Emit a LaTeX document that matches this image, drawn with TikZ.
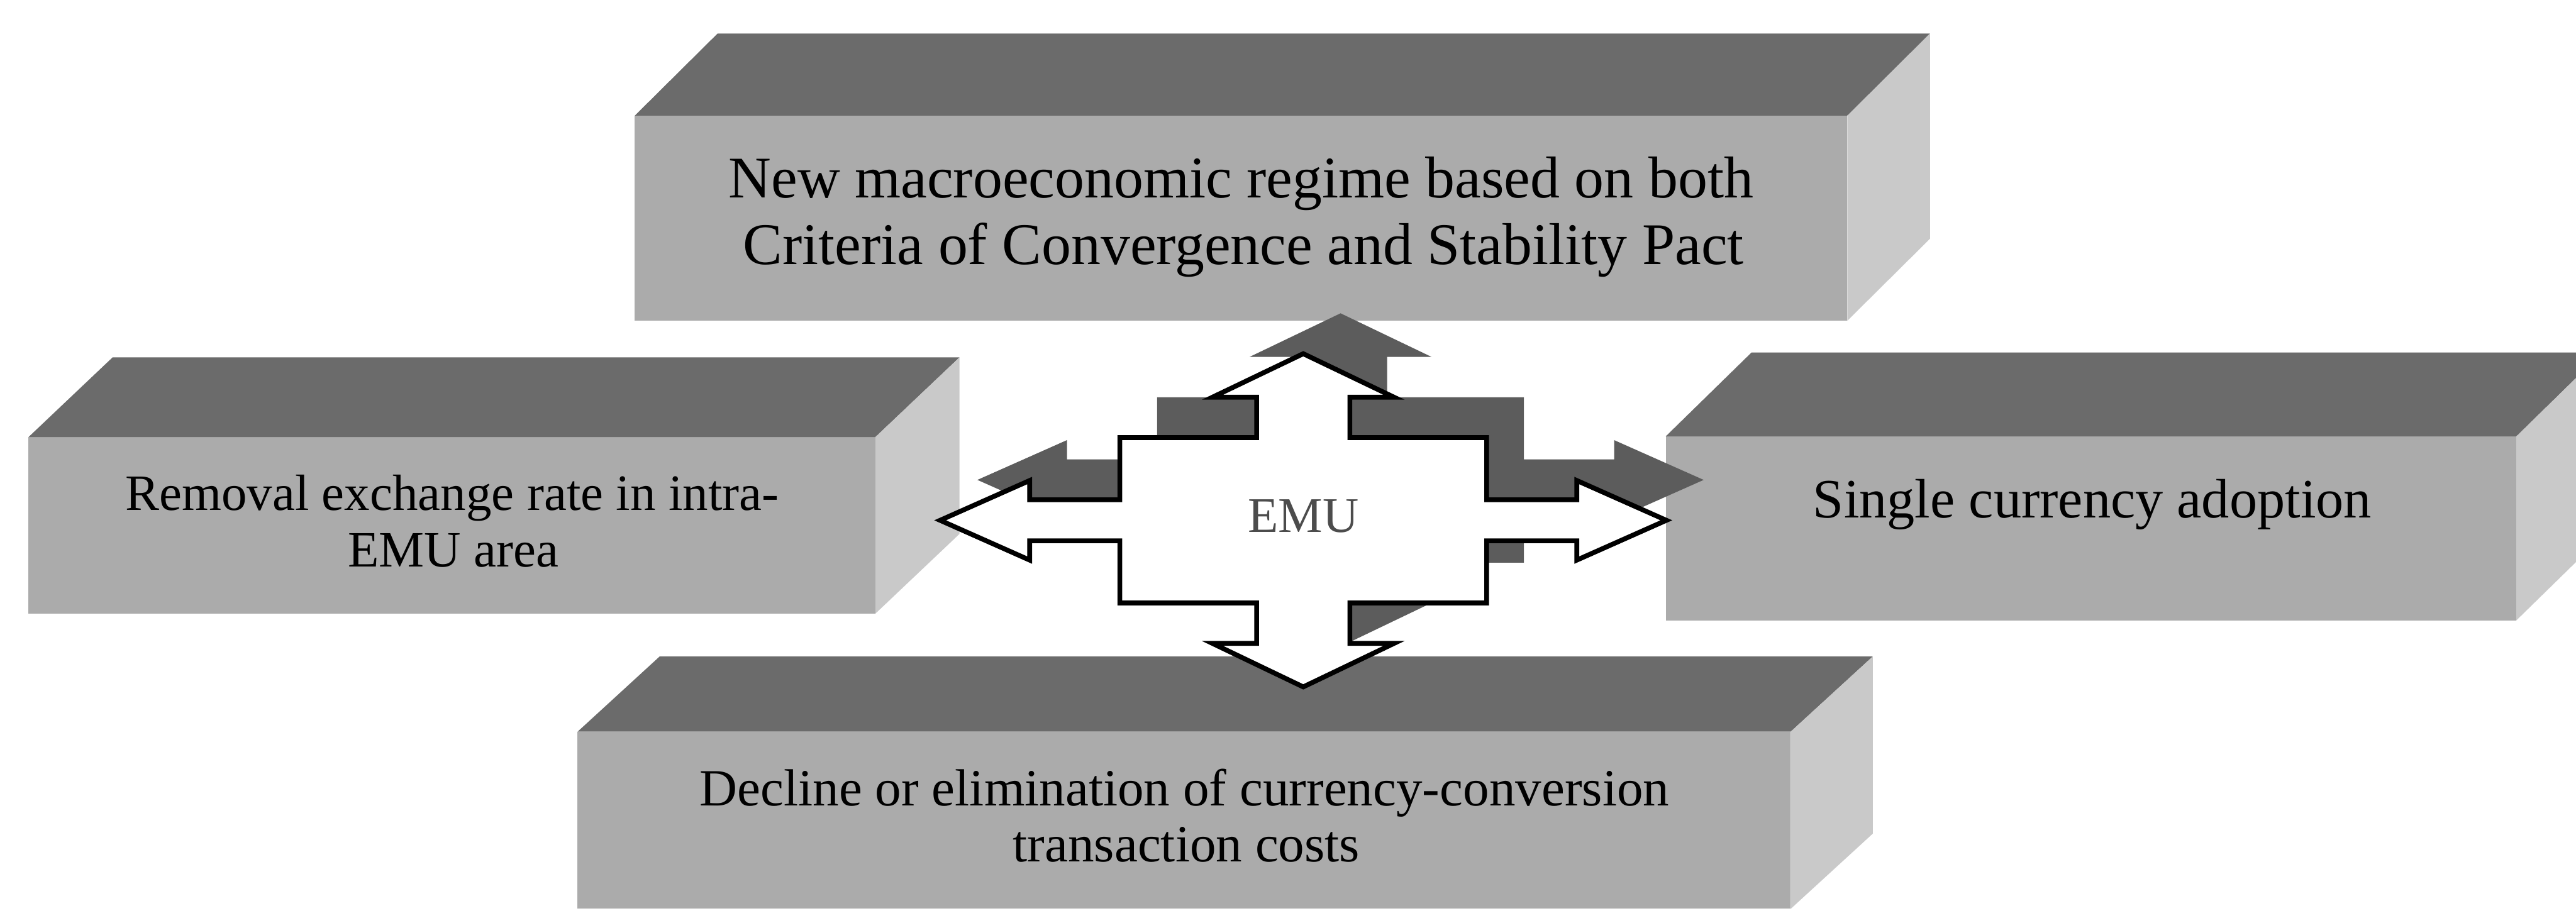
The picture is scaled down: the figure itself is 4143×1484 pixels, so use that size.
\documentclass[tikz,border=0pt]{standalone}
\usepackage{fontspec}
\setmainfont{Liberation Serif}
\definecolor{topcol}{gray}{0.42}
\definecolor{frontcol}{gray}{0.67}
\definecolor{sidecol}{gray}{0.79}
\definecolor{shadowcol}{gray}{0.36}
\definecolor{emucol}{gray}{0.30}
\newcommand\mybox[6]{%
  \fill[frontcol] (#1,#2) rectangle (#3,#4);
  \fill[topcol] (#1,#2) -- (#1+#5,#2-#6) -- (#3+#5,#2-#6) -- (#3,#2) -- cycle;
  \fill[sidecol] (#3,#2) -- (#3+#5,#2-#6) -- (#3+#5,#4-#6) -- (#3,#4) -- cycle;
}
\newcommand\crosspath{%
  (0,-268) -- (146,-198) -- (75,-198) -- (75,-133) -- (295,-133) -- (295,-33) --
  (440,-33) -- (440,-64) -- (584,0) -- (440,64) -- (440,33) -- (295,33) --
  (295,133) -- (75,133) -- (75,198) -- (146,198) -- (0,268) -- (-146,198) --
  (-75,198) -- (-75,133) -- (-295,133) -- (-295,33) -- (-440,33) -- (-440,64) --
  (-584,0) -- (-440,-64) -- (-440,-33) -- (-295,-33) -- (-295,-133) --
  (-75,-133) -- (-75,-198) -- (-146,-198) -- cycle}
\begin{document}
\begin{tikzpicture}[x=0.01cm,y=-0.01cm,
  lbl/.style={anchor=base,inner sep=0pt,text=black},
  fa/.style={lbl,font=\fontsize{27}{30}\selectfont},
  fb/.style={lbl,font=\fontsize{23.3}{26}\selectfont},
  fc/.style={lbl,font=\fontsize{25.4}{28}\selectfont},
  fd/.style={lbl,font=\fontsize{23.9}{26}\selectfont},
  crossshadow/.style={fill=shadowcol},
  crosswhite/.style={fill=white,draw=black,line width=2.2pt,line join=miter}]
\useasboundingbox (0,0) rectangle (4143,1484);
\clip (0,0) rectangle (4143,1484);
\fill[white] (0,0) rectangle (4143,1484);
% boxes
\mybox{1021}{186}{2971}{516}{133}{132}
\mybox{46}{703}{1408}{987}{135}{128}
\mybox{2679}{702}{4047}{998}{138}{135}
\mybox{929}{1177}{2880}{1462}{132}{121}
% labels
\node[fa] (top1) at (1996,318) {New macroeconomic regime based on both};
\node[fa] (top2) at (2000,425) {Criteria of Convergence and Stability Pact};
\node[fb] (left1) at (727,821) {Removal exchange rate in intra-};
\node[fb] (left2) at (729,912) {EMU area};
\node[fc] (right1) at (3365,833) {Single currency adoption};
\node[fd] (bot1) at (1905,1296) {Decline or elimination of currency-conversion};
\node[fd] (bot2) at (1908,1386) {transaction costs};
% cross arrow
\begin{scope}[shift={(2156,772)}]
  \fill[crossshadow] \crosspath;
\end{scope}
\begin{scope}[shift={(2096,837)}]
  \filldraw[crosswhite] \crosspath;
\end{scope}
\node[lbl,font=\fontsize{22.8}{25}\selectfont,text=emucol] (emu) at (2096,856) {EMU};
\end{tikzpicture}
\end{document}
